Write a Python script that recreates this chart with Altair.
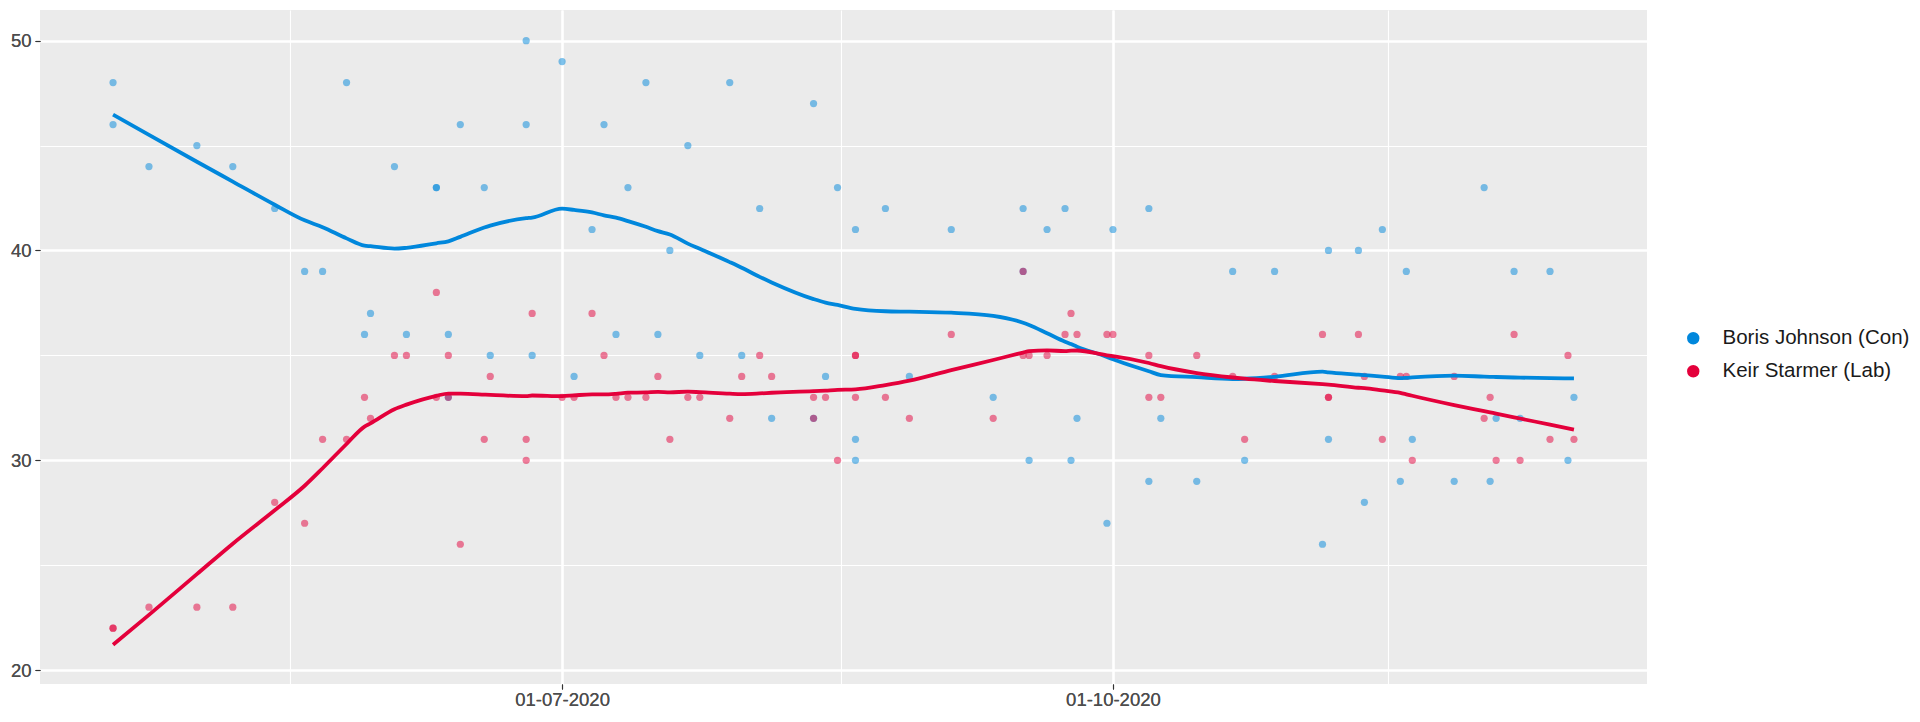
import altair as alt
import pandas as pd

# ---- data ----
con_dates = [
    "2020-04-17", "2020-04-17", "2020-04-23", "2020-05-01", "2020-05-07", "2020-05-14",
    "2020-05-19", "2020-05-22", "2020-05-26", "2020-05-29", "2020-05-30", "2020-06-03",
    "2020-06-05", "2020-06-10", "2020-06-10", "2020-06-12", "2020-06-12", "2020-06-14",
    "2020-06-18", "2020-06-19", "2020-06-25", "2020-06-25", "2020-06-26", "2020-07-01",
    "2020-07-03", "2020-07-06", "2020-07-08", "2020-07-10", "2020-07-12", "2020-07-15",
    "2020-07-17", "2020-07-19", "2020-07-22", "2020-07-24", "2020-07-29", "2020-07-31",
    "2020-08-03", "2020-08-05", "2020-08-12", "2020-08-12", "2020-08-14", "2020-08-16",
    "2020-08-19", "2020-08-19", "2020-08-19", "2020-08-24", "2020-08-28", "2020-09-04",
    "2020-09-11", "2020-09-16", "2020-09-16", "2020-09-17", "2020-09-20", "2020-09-23",
    "2020-09-24", "2020-09-25", "2020-09-30", "2020-10-01", "2020-10-07", "2020-10-07",
    "2020-10-09", "2020-10-15", "2020-10-21", "2020-10-23", "2020-10-28", "2020-11-05",
    "2020-11-06", "2020-11-06", "2020-11-11", "2020-11-12", "2020-11-15", "2020-11-18",
    "2020-11-19", "2020-11-20", "2020-11-27", "2020-12-02", "2020-12-03", "2020-12-04",
    "2020-12-07", "2020-12-08", "2020-12-13", "2020-12-16", "2020-12-17",
]
con_values = [
    48, 46, 44, 45, 44, 42,
    39, 39, 48, 36, 37, 44,
    36, 43, 43, 36, 33, 46,
    43, 35, 50, 46, 35, 49,
    34, 41, 46, 36, 43, 48,
    36, 40, 45, 35, 48, 35,
    42, 32, 47, 32, 34, 43,
    41, 31, 30, 42, 34, 41,
    33, 42, 39, 30, 41, 42,
    30, 32, 27, 41, 42, 29,
    32, 29, 39, 30, 39, 26,
    40, 31, 40, 28, 41, 29,
    39, 31, 29, 43, 29, 32,
    39, 32, 39, 30, 33,
]

lab_dates = con_dates
lab_values = [
    22, 22, 23, 23, 23, 28,
    27, 31, 31, 33, 32, 35,
    35, 38, 33, 35, 33, 26,
    31, 34, 31, 30, 37, 33,
    33, 37, 35, 33, 33, 33,
    34, 31, 33, 33, 32, 34,
    35, 34, 33, 32, 33, 30,
    35, 35, 33, 33, 32, 36,
    32, 35, 39, 35, 35, 36,
    37, 36, 36, 36, 35, 33,
    33, 35, 34, 31, 34, 36,
    33, 33, 36, 34, 31, 34,
    34, 30, 34, 32, 33, 30,
    36, 30, 31, 35, 31,
]

series_names = ["Boris Johnson (Con)", "Keir Starmer (Lab)"]
series_colors = ["#0087DC", "#E4003B"]

major_y = [20, 30, 40, 50]
minor_y = [25, 35, 45]

df = pd.DataFrame({
    "date": pd.to_datetime(con_dates + lab_dates),
    "value": con_values + lab_values,
    "leader": [series_names[0]] * len(con_values) + [series_names[1]] * len(lab_values),
})

# ggplot-style 5% expansion of the date range
dmin = df["date"].min()
dmax = df["date"].max()
pad = (dmax - dmin) * 0.05
lo = dmin - pad
hi = dmax + pad


def dt(t):
    return alt.DateTime(year=t.year, month=t.month, date=t.day, hours=t.hour, minutes=t.minute)


x_domain = [dt(lo), dt(hi)]
major_x = [alt.DateTime(year=2020, month=7, date=1), alt.DateTime(year=2020, month=10, date=1)]
minor_x = [alt.DateTime(year=2020, month=5, date=16, hours=12),
           alt.DateTime(year=2020, month=8, date=16, hours=12),
           alt.DateTime(year=2020, month=11, date=16)]

FONT = "Liberation Sans"

x_scale = alt.Scale(domain=x_domain, nice=False)
y_scale = alt.Scale(domain=[19.34, 51.46], nice=False, zero=False)
color_scale = alt.Scale(domain=series_names, range=series_colors)

x_major_axis = alt.Axis(
    values=major_x, format="%d-%m-%Y", title=None, grid=True, gridColor="white",
    gridWidth=2.1, domain=False, tickColor="#333333", tickSize=5, tickWidth=1.1,
    labelFont=FONT, labelFontSize=18.5, labelColor="#4D4D4D", labelPadding=1,
    labelFlush=False, labelOverlap=False, orient="bottom",
)
y_major_axis = alt.Axis(
    values=major_y, title=None, grid=True, gridColor="white", gridWidth=2.1,
    domain=False, tickColor="#333333", tickSize=5, tickWidth=1.1,
    labelFont=FONT, labelFontSize=18.5, labelColor="#4D4D4D", labelPadding=4,
    orient="left",
)
x_minor_axis = alt.Axis(
    values=minor_x, title=None, grid=True, gridColor="white", gridWidth=1.1,
    domain=False, ticks=False, labels=False, orient="top",
)
y_minor_axis = alt.Axis(
    values=minor_y, title=None, grid=True, gridColor="white", gridWidth=1.1,
    domain=False, ticks=False, labels=False, orient="right",
)

base = alt.Chart(df)

minor = base.mark_point(opacity=0).encode(
    x=alt.X("date:T", scale=x_scale, axis=x_minor_axis),
    y=alt.Y("value:Q", scale=y_scale, axis=y_minor_axis),
)

points = base.mark_circle(size=52, opacity=0.5).encode(
    x=alt.X("date:T", scale=x_scale, axis=x_major_axis),
    y=alt.Y("value:Q", scale=y_scale, axis=y_major_axis),
    color=alt.Color(
        "leader:N", scale=color_scale,
        legend=alt.Legend(
            title=None, orient="none", legendX=1643, legendY=318,
            symbolType="circle", symbolSize=154, symbolOpacity=1, symbolStrokeWidth=0,
            labelFont=FONT, labelFontSize=20.5, labelColor="#1A1A1A", labelOffset=19,
            labelLimit=400, rowPadding=12, padding=0,
        ),
    ),
)

lines = base.transform_loess(
    "date", "value", groupby=["leader"], bandwidth=0.25
).mark_line(strokeWidth=3.8, interpolate="monotone").encode(
    x=alt.X("date:T", scale=x_scale, axis=x_major_axis),
    y=alt.Y("value:Q", scale=y_scale, axis=y_major_axis),
    color=alt.Color("leader:N", scale=color_scale, legend=None),
)

chart = alt.layer(minor, points, lines).resolve_axis(
    x="independent", y="independent"
).properties(
    width=1607, height=674,
    padding={"left": 32, "top": 2, "right": 265, "bottom": 30},
    autosize=alt.AutoSizeParams(type="none"),
).configure(
    background="white",
    view=alt.ViewConfig(fill="#EBEBEB", stroke="transparent", strokeWidth=0),
)

chart.save("out.html", embed_options={"renderer": "svg", "actions": False})
